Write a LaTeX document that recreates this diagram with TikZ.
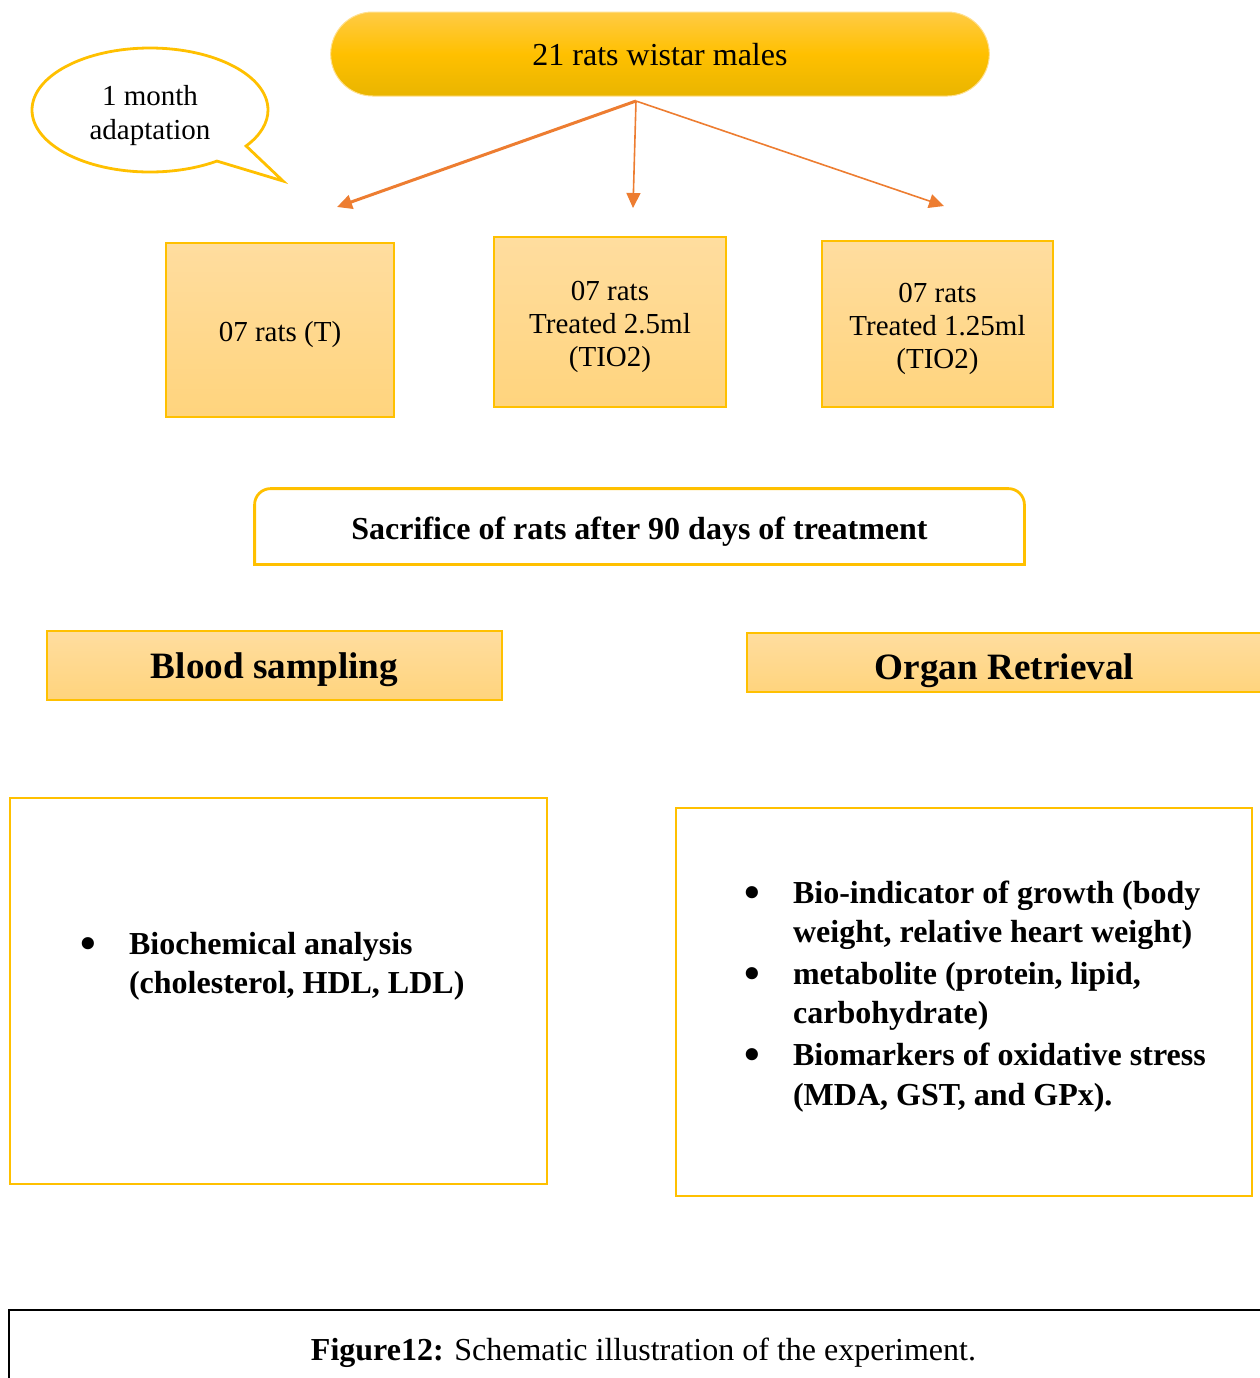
\documentclass[tikz,border=0pt]{standalone}
\usepackage{fontspec}
\setmainfont{Liberation Serif}
\usetikzlibrary{shapes.misc,shapes.callouts,arrows.meta}
\definecolor{frameyellow}{HTML}{FFC000}
\definecolor{arroworange}{HTML}{ED7D31}
\definecolor{pilltop}{HTML}{FFCB45}
\definecolor{pillbot}{HTML}{E9B500}
\definecolor{boxtop}{HTML}{FFDD9F}
\definecolor{boxbot}{HTML}{FFD47D}
% lower the text inside its node, the node keeps its size
\newcommand{\lowered}[2]{\raisebox{-#1}[\height][\depth]{\begin{tabular}{@{}c@{}}#2\end{tabular}}}
\newcommand{\bigbullet}{\raisebox{-2pt}{\scalebox{1.4}{\textbullet}}}

\begin{document}
\begin{tikzpicture}[x=0.5pt,y=-0.5pt,
  groupbox/.style={draw=frameyellow,line width=0.6pt,top color=boxtop,bottom color=boxbot,
    inner sep=0pt,align=center,font=\fontsize{14.5}{16.5}\selectfont},
  framebox/.style={draw=frameyellow,line width=1.4pt,inner sep=0pt},
  listtext/.style={anchor=west,inner sep=0pt,font=\bfseries\fontsize{16}{19.6}\selectfont},
  split/.style={draw=arroworange,-{Triangle[length=7.5pt,width=7pt]}}]
\useasboundingbox (0,0) rectangle (1260,1378);

% start group and adaptation note
\node[rounded rectangle,draw=pilltop!60!white,line width=0.5pt,top color=pilltop,bottom color=pillbot,
  middle color=frameyellow,minimum width=336pt,minimum height=42pt,
  font=\fontsize{16}{19}\selectfont] (herd) at (660,54) {\lowered{2pt}{21 rats wistar males}};
\node[ellipse callout,draw=frameyellow,line width=1.4pt,fill=white,minimum width=118pt,
  minimum height=62pt,callout absolute pointer={(283,181)},callout pointer arc=20,
  font=\fontsize{14.5}{17}\selectfont] (adapt) at (150,110) {\lowered{3pt}{1 month\\adaptation}};

% split into three groups
\coordinate (fork) at (636,101);
\coordinate (tipT) at (337,207);
\coordinate (tipA) at (633,208);
\coordinate (tipB) at (944,206);
\draw[split,line width=1.5pt] (fork) -- (tipT);
\draw[split,line width=0.8pt] (fork) -- (tipA);
\draw[split,line width=0.8pt] (fork) -- (tipB);

\node[groupbox,minimum width=114pt,minimum height=87pt] (ctrl) at (280,330) {\lowered{2.5pt}{07 rats (T)}};
\node[groupbox,minimum width=116pt,minimum height=85pt] (doseA) at (610,322) {\lowered{2.5pt}{07 rats\\Treated 2.5ml\\(TIO2)}};
\node[groupbox,minimum width=115.5pt,minimum height=83pt] (doseB) at (937.5,324) {\lowered{2.5pt}{07 rats\\Treated 1.25ml\\(TIO2)}};

% sacrifice
\node[minimum width=384.5pt,minimum height=37.5pt,inner sep=0pt,
  font=\bfseries\fontsize{16}{19}\selectfont] (sacrifice) at (639.5,526.5) {\lowered{2.5pt}{Sacrifice of rats after 90 days of treatment}};
\draw[frameyellow,line width=1.4pt] (sacrifice.south west) -- ([yshift=-8pt]sacrifice.north west)
  arc[start angle=180,end angle=90,radius=8pt] -- ([xshift=-8pt]sacrifice.north east)
  arc[start angle=90,end angle=0,radius=8pt] -- (sacrifice.south east) -- cycle;

% samples
\node[groupbox,minimum width=227.5pt,minimum height=34.5pt,font=\bfseries\fontsize{18.6}{22}\selectfont] (blood) at (274.5,665.5) {\lowered{2pt}{Blood sampling}};
\node[groupbox,minimum width=257.5pt,minimum height=29.5pt,font=\bfseries\fontsize{18.6}{22}\selectfont] (organ) at (1004.5,662.5) {\lowered{4pt}{Organ Retrieval}};

\node[framebox,minimum width=268.5pt,minimum height=193pt] (bloodframe) at (278.5,991) {};
\node[listtext] (bloodlist) at (80,966) {\begin{tabular}{@{}l@{\hspace{16.5pt}}l@{}}
  \bigbullet & Biochemical analysis\\
   & (cholesterol, HDL, LDL)
  \end{tabular}};

\node[framebox,minimum width=288pt,minimum height=194pt] (organframe) at (964,1002) {};
\node[listtext] (organlist) at (744,996.5) {\begin{tabular}{@{}l@{\hspace{16.5pt}}l@{}}
  \bigbullet & Bio-indicator of growth (body\\
   & weight, relative heart weight)\\[1.4pt]
  \bigbullet & metabolite (protein, lipid,\\
   & carbohydrate)\\[1.4pt]
  \bigbullet & Biomarkers of oxidative stress\\
   & (MDA, GST, and GPx).
  \end{tabular}};

% caption
\draw[line width=1.2pt] (9,1378) -- (9,1310) -- (1260,1310);
\node[font=\fontsize{16}{19}\selectfont] (caption) at (643.5,1353) {\textbf{Figure12:} Schematic illustration of the experiment.};
\end{tikzpicture}
\end{document}
